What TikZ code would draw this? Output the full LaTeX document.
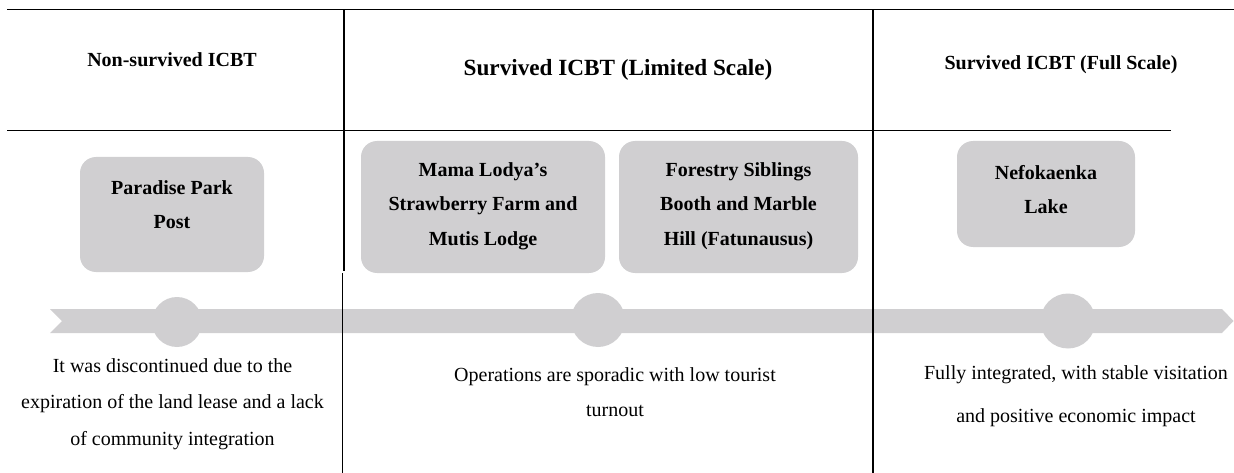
\documentclass[tikz,border=0pt]{standalone}
\usepackage{fontspec}
\setmainfont{Liberation Serif}
\definecolor{band}{RGB}{208,207,209}
\begin{document}
\begin{tikzpicture}[x=1pt,y=-1pt,
  rule/.style={line width=1.2pt,black},
  card/.style={fill=band,draw=none,rounded corners=16pt},
  cardtxt/.style={font=\fontsize{20}{34.5}\selectfont\bfseries,align=center,inner sep=0pt},
  headtxt/.style={font=\fontsize{20}{24}\selectfont\bfseries,inner sep=0pt},
  bodytxt/.style={font=\fontsize{20}{36.5}\selectfont,align=center,inner sep=0pt},
  dot/.style={circle,fill=band,draw=none,inner sep=0pt}]
\useasboundingbox (0,0) rectangle (1234,473);
% timeline band
\fill[band] (50,309) -- (1222,309) -- (1233.5,321) -- (1222,333) -- (50,333) -- (62,321) -- cycle;
\node[dot,minimum size=50pt] (d1) at (177,322) {};
\node[dot,minimum size=54pt] (d2) at (598,320) {};
\node[dot,minimum size=55pt] (d3) at (1068,321) {};
% table rules
\coordinate (t0) at (7,9.5);
\coordinate (t1) at (1234,9.5);
\coordinate (m0) at (7,130.5);
\coordinate (m1) at (1171,130.5);
\coordinate (va) at (344,9.5);
\coordinate (vb) at (344,271);
\coordinate (vc) at (342.3,273);
\coordinate (vd) at (342.3,473);
\coordinate (ve) at (873,9.5);
\coordinate (vf) at (873,473);
\draw[rule] (t0) -- (t1);
\draw[rule] (m0) -- (m1);
\draw[rule] (va) -- (vb);
\draw[rule] (vc) -- (vd);
\draw[rule] (ve) -- (vf);
% headers
\node[headtxt] (h1) at (172,60) {Non-survived ICBT};
\node[headtxt,font=\fontsize{23.2}{28}\selectfont\bfseries] (h2) at (618,70) {Survived ICBT (Limited Scale)};
\node[headtxt] (h3) at (1061,65) {Survived ICBT (Full Scale)};
% cards
\node[card,minimum width=184pt,minimum height=115pt] (b1) at (172,214.5) {};
\node[card,minimum width=244pt,minimum height=132pt] (b2) at (483,207) {};
\node[card,minimum width=239pt,minimum height=132pt] (b3) at (738.5,207) {};
\node[card,minimum width=178pt,minimum height=106pt] (b4) at (1046,194) {};
\node[cardtxt] (l1) at (172,204.5) {Paradise Park\\Post};
\node[cardtxt] (l2) at (483,206) {Mama Lodya’s\\Strawberry Farm and\\Mutis Lodge};
\node[cardtxt] (l3) at (738.5,206) {Forestry Siblings\\Booth and Marble\\Hill (Fatunausus)};
\node[cardtxt] (l4) at (1046,189.5) {Nefokaenka\\Lake};
% descriptions
\node[bodytxt] (e1) at (172.5,404) {It was discontinued due to the\\expiration of the land lease and a lack\\of community integration};
\node[bodytxt,font=\fontsize{20}{35}\selectfont] (e2) at (615,392) {Operations are sporadic with low tourist\\turnout};
\node[bodytxt,font=\fontsize{20}{43}\selectfont] (e3) at (1076,396) {Fully integrated, with stable visitation\\and positive economic impact};
\end{tikzpicture}
\end{document}
